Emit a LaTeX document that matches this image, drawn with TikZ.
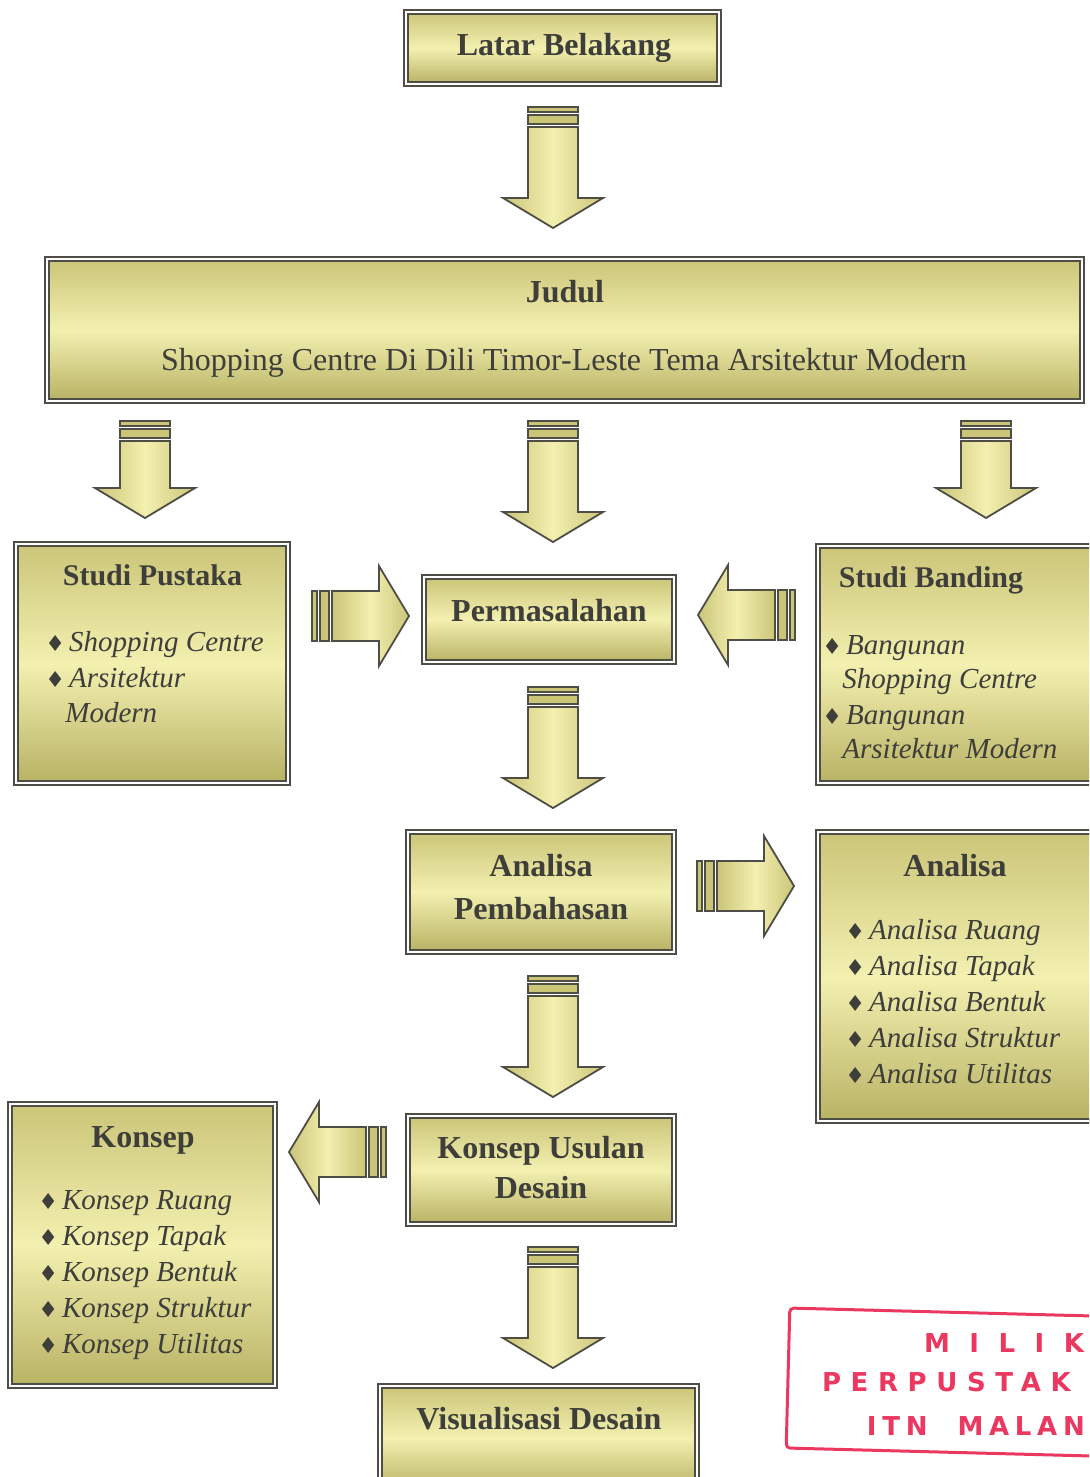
\documentclass[tikz,border=0pt]{standalone}
\usepackage{fontspec}
\setmainfont{Liberation Serif}
\newfontfamily\symfont{DejaVu Sans}
\newfontfamily\stampfont{DejaVu Sans}
\definecolor{khakitop}{RGB}{203,197,120}
\definecolor{khakilight}{RGB}{243,240,176}
\definecolor{khakibot}{RGB}{184,178,100}
\definecolor{boxline}{RGB}{78,78,70}
\definecolor{ink}{RGB}{62,62,58}
\definecolor{stampred}{RGB}{234,56,96}
\newcommand\itemdia{{\symfont\fontsize{11}{11}\selectfont ♦}\hspace{2pt}}
\begin{document}
\begin{tikzpicture}[x=0.5pt,y=-0.5pt,
  box/.style={draw=boxline,double=white,double distance=1pt,line width=1.2pt,
    top color=khakitop,bottom color=khakibot,middle color=khakilight,inner sep=0pt},
  ttl/.style={font=\bfseries\fontsize{16}{19}\selectfont,text=ink,anchor=base,inner sep=0pt},
  subttl/.style={font=\fontsize{16}{19}\selectfont,text=ink,anchor=base,inner sep=0pt},
  itm/.style={font=\itshape\fontsize{14.5}{18}\selectfont,text=ink,anchor=base west,inner sep=0pt},
  stamp/.style={font=\stampfont\bfseries\fontsize{13}{13}\selectfont,text=stampred,anchor=base west,inner sep=0pt},
  barstyle/.style={draw=boxline,line width=0.9pt,fill=khakitop},
  arrowbody/.style={draw=boxline,line width=0.9pt,left color=khakitop,right color=khakitop,middle color=khakilight},
  pics/fatarrow/.style={code={
    \draw[barstyle] (-25,0) rectangle (25,5);
    \draw[barstyle] (-25,8) rectangle (25,17);
    \draw[arrowbody] (-25,20) -- (-25,#1-30) -- (-50,#1-30) -- (0,#1) -- (50,#1-30) -- (25,#1-30) -- (25,20) -- cycle;}}]
\useasboundingbox (0,0) rectangle (1089,1477);
\clip (0,0) rectangle (1089,1477);

\node[box,minimum width=156.5pt,minimum height=36pt] (lb) at (562.5,48) {};
\node[ttl] (lbt) at (564,56) {Latar Belakang};
\node[box,minimum width=517.5pt,minimum height=71pt] (judul) at (564.5,330) {};
\node[ttl] (jt) at (565,302) {Judul};
\node[subttl] (jst) at (564,370) {Shopping Centre Di Dili Timor-Leste Tema Arsitektur Modern};

\node[box,minimum width=136pt,minimum height=119.5pt] (sp) at (152,663.5) {};
\node[ttl,font=\bfseries\fontsize{15}{18}\selectfont] (spt) at (152.5,585) {Studi Pustaka};
\node[itm] (sp1) at (45,651) {\itemdia Shopping Centre};
\node[itm] (sp2) at (45,687) {\itemdia Arsitektur};
\node[itm] (sp3) at (65,722) {Modern};

\node[box,minimum width=125pt,minimum height=42.5pt] (perm) at (549,619.5) {};
\node[ttl] (permt) at (549,621) {Permasalahan};

\node[box,minimum width=141pt,minimum height=118.5pt] (sb) at (959,664.5) {};
\node[ttl,font=\bfseries\fontsize{15}{18}\selectfont] (sbt) at (931,587) {Studi Banding};
\node[itm] (sb1) at (822,654) {\itemdia Bangunan};
\node[itm] (sb2) at (842,688) {Shopping Centre};
\node[itm] (sb3) at (822,724) {\itemdia Bangunan};
\node[itm] (sb4) at (842,758) {Arsitektur Modern};

\node[box,minimum width=133pt,minimum height=60pt] (ap) at (541,892) {};
\node[ttl] (apt1) at (541,876) {Analisa};
\node[ttl] (apt2) at (541,919) {Pembahasan};

\node[box,minimum width=141pt,minimum height=144.5pt] (an) at (959,976.5) {};
\node[ttl] (ant) at (955,876) {Analisa};
\foreach \t [count=\i] in {Ruang,Tapak,Bentuk,Struktur,Utilitas}
  \node[itm] (an\i) at (845,903+36*\i) {\itemdia Analisa \t};

\node[box,minimum width=133pt,minimum height=54pt] (ku) at (541,1170) {};
\node[ttl] (kut1) at (541,1158) {Konsep Usulan};
\node[ttl] (kut2) at (541,1198) {Desain};

\node[box,minimum width=132.5pt,minimum height=141pt] (ks) at (142.5,1245) {};
\node[ttl] (kst) at (143,1147) {Konsep};
\foreach \t [count=\i] in {Ruang,Tapak,Bentuk,Struktur,Utilitas}
  \node[itm] (ks\i) at (38,1173+36*\i) {\itemdia Konsep \t};

\node[box,minimum width=158.5pt,minimum height=52pt] (vd) at (538.5,1438) {};
\node[ttl] (vdt) at (539,1429) {Visualisasi Desain};

\pic at (553,107) {fatarrow=121};
\pic at (145,421) {fatarrow=97};
\pic at (553,421) {fatarrow=121};
\pic at (986,421) {fatarrow=97};
\pic[rotate=90] at (312,616) {fatarrow=97};
\pic[rotate=-90] at (795,615) {fatarrow=97};
\pic at (553,687) {fatarrow=121};
\pic[rotate=90] at (697,886) {fatarrow=97};
\pic at (553,976) {fatarrow=121};
\pic[rotate=-90] at (386,1152) {fatarrow=97};
\pic at (553,1247) {fatarrow=121};

\begin{scope}[rotate around={-1.5:(940,1380)}]
\draw[stampred,line width=1.5pt,rounded corners=2pt] (788,1312) rectangle (1120,1452);
\node[stamp] (st1) at (923,1353) {\addfontfeatures{LetterSpace=75}MILIK};
\node[stamp] (st2) at (822,1395) {\addfontfeatures{LetterSpace=37}PERPUSTAK};
\node[stamp] (st3) at (868,1437) {\addfontfeatures{LetterSpace=22}ITN\hspace{15pt}MALAN};
\end{scope}
\end{tikzpicture}
\end{document}
